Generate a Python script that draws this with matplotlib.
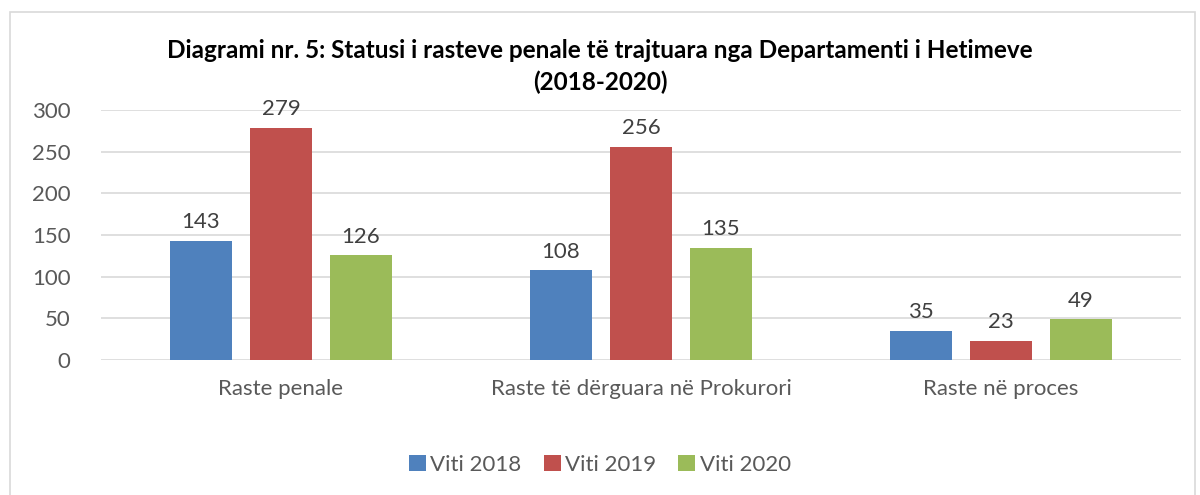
import matplotlib.pyplot as plt
from matplotlib.patches import Rectangle
import numpy as np

plt.rcParams["font.family"] = ["Lato", "DejaVu Sans"]

categories = ["Raste penale", "Raste të dërguara në Prokurori", "Raste në proces"]
series = ["Viti 2018", "Viti 2019", "Viti 2020"]
v2018 = [143, 108, 35]
v2019 = [279, 256, 23]
v2020 = [126, 135, 49]
colors = ["#4F81BD", "#C0504D", "#9BBB59"]

fig = plt.figure(figsize=(12, 4.95), dpi=100)
fig.patches.append(Rectangle((10 / 1200, -0.01), 1185 / 1200, 1 - 12 / 495 + 0.01,
                             transform=fig.transFigure, fill=False,
                             edgecolor="#D9D9D9", linewidth=1.2))

ax = fig.add_axes([101 / 1200, 1 - 360 / 495, 1080 / 1200, 250 / 495])
x = np.arange(len(categories))
w = 62 / 360
step = 80 / 360
for i, (name, vals) in enumerate(zip(series, [v2018, v2019, v2020])):
    bars = ax.bar(x + (i - 1) * step, vals, w, color=colors[i], label=name, zorder=3)
    for b, v in zip(bars, vals):
        ax.text(b.get_x() + b.get_width() / 2, v + 10, str(v), ha="center", va="bottom",
                fontsize=16, color="#404040")

ax.set_xlim(-0.5, 2.5)
ax.set_ylim(0, 300)
ax.set_yticks(range(0, 301, 50))
ax.yaxis.grid(True, color="#D9D9D9", linewidth=1.2, zorder=0)
ax.set_xticks(x)
ax.set_xticklabels(categories)
ax.tick_params(axis="both", length=0, labelsize=16, labelcolor="#595959")
ax.tick_params(axis="x", pad=14)
ax.tick_params(axis="y", pad=22)
for s in ax.spines.values():
    s.set_visible(False)

fig.text(0.5, 1 - 50 / 495,
         "Diagrami nr. 5: Statusi i rasteve penale të trajtuara nga Departamenti i Hetimeve",
         ha="center", va="center", fontsize=17.5, fontweight="bold", color="#000000")
fig.text(0.5, 1 - 82 / 495, "(2018-2020)", ha="center", va="center",
         fontsize=17.5, fontweight="bold", color="#000000")

fig.legend(loc="center", bbox_to_anchor=(0.5, 1 - 465 / 495), ncol=3, frameon=False,
           fontsize=16, handlelength=0.75, handleheight=0.75, handletextpad=0.2,
           columnspacing=1.0, labelcolor="#595959")

fig.savefig("out.png", dpi=100)
